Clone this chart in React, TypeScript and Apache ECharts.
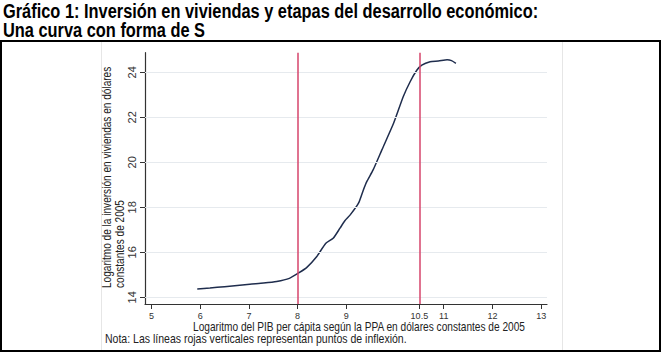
import React, { useEffect, useRef } from "react";
import * as echarts from "echarts";

const curveX = [5.94, 6.2, 6.5, 7.02, 7.3, 7.57, 7.83, 8.03, 8.19, 8.39, 8.58, 8.73, 8.87, 8.97, 9.08, 9.25, 9.35, 9.42, 9.55, 9.73, 9.97, 10.17, 10.31, 10.45, 10.55, 10.72, 10.89, 11.07, 11.16, 11.25];
const curveY = [14.37, 14.41, 14.47, 14.58, 14.63, 14.7, 14.84, 15.09, 15.33, 15.8, 16.4, 16.62, 17.07, 17.4, 17.66, 18.18, 18.77, 19.14, 19.66, 20.55, 21.73, 22.92, 23.58, 24.1, 24.32, 24.47, 24.5, 24.56, 24.52, 24.4];
const xTicks = [5, 6, 7, 8, 9, 10.5, 11, 12, 13];
const yTicks = [14, 16, 18, 20, 22, 24];
const inflectionPoints = [8, 10.5];

const titleLines = [
  "Gráfico 1: Inversión en viviendas y etapas del desarrollo económico:",
  "Una curva con forma de S",
];
const xName = "Logaritmo del PIB per cápita según la PPA en dólares constantes de 2005";
const yName = "Logaritmo de la inversión en viviendas en dólares\nconstantes de 2005";
const note = "Nota: Las líneas rojas verticales representan puntos de inflexión.";

const FONT = '"Liberation Sans", Arial, sans-serif';

export default function App() {
  const ref = useRef<HTMLDivElement>(null);
  useEffect(() => {
    if (!ref.current) return;
    const chart = echarts.init(ref.current, null, { renderer: "svg" });
    const data = curveX.map((x, i) => [x, curveY[i]]);
    chart.setOption({
      animation: false,
      backgroundColor: "#fff",
      grid: { left: 145, right: 116, top: 52.7, bottom: 49 },
      xAxis: {
        type: "value",
        min: 4.867,
        max: 13.12,
        splitLine: { show: false },
        axisLine: { show: true, lineStyle: { color: "#333", width: 1.2 } },
        axisTick: { show: true, customValues: xTicks, length: 5, lineStyle: { color: "#333" } },
        axisLabel: { customValues: xTicks, fontSize: 9, color: "#333", margin: 7, fontFamily: FONT },
      },
      yAxis: {
        type: "value",
        min: 13.7,
        max: 24.87,
        splitLine: { show: false },
        axisLine: { show: true, lineStyle: { color: "#333", width: 1.2 } },
        axisTick: { show: true, customValues: yTicks, length: 5, lineStyle: { color: "#333" } },
        axisLabel: { customValues: yTicks, fontSize: 11, color: "#333", margin: 8, rotate: 90, fontFamily: FONT },
      },
      series: [
        {
          type: "line",
          data,
          z: 1,
          showSymbol: false,
          silent: true,
          lineStyle: { opacity: 0 },
          markLine: {
            silent: true,
            symbol: "none",
            label: { show: false },
            lineStyle: { color: "#e6eaee", width: 1, type: "solid" },
            data: yTicks.map((v) => ({ yAxis: v })),
          },
        },
        {
          type: "line",
          data,
          z: 2,
          showSymbol: false,
          silent: true,
          lineStyle: { opacity: 0 },
          markLine: {
            silent: true,
            symbol: "none",
            label: { show: false },
            lineStyle: { color: "#d6456b", width: 1.5, type: "solid" },
            data: inflectionPoints.map((v) => ({ xAxis: v })),
          },
        },
        {
          type: "line",
          data,
          z: 3,
          smooth: 0.2,
          showSymbol: false,
          lineStyle: { color: "#1f2d4d", width: 1.5 },
        },
      ],
      graphic: [
        { type: "rect", shape: { x: 1, y: 41, width: 659, height: 310 }, style: { fill: "none", stroke: "#000", lineWidth: 2 }, silent: true },
        { type: "line", shape: { x1: 101.5, y1: 42, x2: 101.5, y2: 350 }, style: { stroke: "#e6e6e6", lineWidth: 1 }, silent: true },
        { type: "line", shape: { x1: 562.5, y1: 42, x2: 562.5, y2: 350 }, style: { stroke: "#e6e6e6", lineWidth: 1 }, silent: true },
        { type: "text", x: 3, y: 11.2, scaleX: 0.78, style: { text: titleLines[0], font: `bold 21px ${FONT}`, fill: "#000", verticalAlign: "middle", align: "left" } },
        { type: "text", x: 3, y: 29.6, scaleX: 0.78, style: { text: titleLines[1], font: `bold 21px ${FONT}`, fill: "#000", verticalAlign: "middle", align: "left" } },
        { type: "text", x: 359, y: 325.5, scaleX: 0.78, style: { text: xName, font: `13px ${FONT}`, fill: "#222", verticalAlign: "middle", align: "center" } },
        { type: "text", x: 105, y: 339, scaleX: 0.81, style: { text: note, font: `13px ${FONT}`, fill: "#222", verticalAlign: "middle", align: "left" } },
        { type: "text", x: 113.5, y: 288, rotation: Math.PI / 2, scaleX: 0.84, style: { text: yName, font: `12px ${FONT}`, lineHeight: 13, fill: "#222", verticalAlign: "middle", align: "left" } },
      ],
    });
    return () => chart.dispose();
  }, []);
  return <div ref={ref} style={{ position: "fixed", left: 0, top: 0, width: 663, height: 353 }} />;
}
